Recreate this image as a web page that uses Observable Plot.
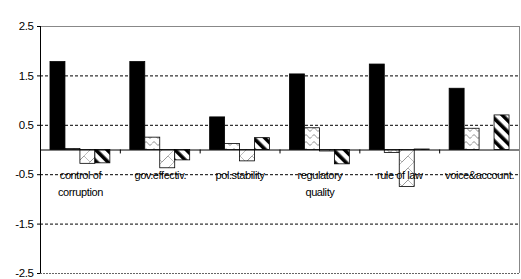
<!DOCTYPE html>
<html>
<head>
<meta charset="utf-8">
<script src="https://cdn.jsdelivr.net/npm/d3@7"></script>
<script src="https://cdn.jsdelivr.net/npm/@observablehq/plot@0.6"></script>
<style>
  html, body { margin: 0; padding: 0; background: #fff; }
  #chart { width: 521px; height: 279px; }
  svg { font-family: Arial, "Liberation Sans", sans-serif; }
</style>
</head>
<body>
<div id="chart"></div>
<script>
// Categories (x axis labels)
const categories = ["control of\ncorruption", "gov.effectiv.", "pol.stability", "regulatory\nquality", "rule of law", "voice&account."];
// Four series
const series1 = [1.78, 1.78, 0.66, 1.53, 1.73, 1.24];
const series2 = [0.02, 0.25, 0.12, 0.44, -0.06, 0.43];
const series3 = [-0.28, -0.37, -0.23, -0.03, -0.75, 0.0];
const series4 = [-0.27, -0.21, 0.24, -0.29, 0.01, 0.70];
// Y tick labels
const yTicks = [2.5, 1.5, 0.5, -0.5, -1.5, -2.5];
const gridTicks = [1.5, 0.5, -0.5, -1.5];

const seriesList = [series1, series2, series3, series4];
const fills = ["#000", "url(#pat2)", "url(#pat3)", "url(#pat4)"];

// layout of a group inside each category band (fractions of the band)
const groupPad = 0.125, barW = 0.1875;

const rows = [];
categories.forEach((c, i) => {
  seriesList.forEach((arr, s) => {
    rows.push({i, s, v: arr[i]});
  });
});
const catRows = categories.map((c, i) => ({i, label: c}));
const boundaries = d3.range(1, categories.length);

const plot = Plot.plot({
  width: 521,
  height: 279,
  marginLeft: 40,
  marginRight: 2,
  marginTop: 26,
  marginBottom: 6,
  style: {fontFamily: "Arial, 'Liberation Sans', sans-serif", background: "#fff"},
  x: {domain: [0, categories.length], axis: null},
  y: {domain: [-2.5, 2.5], axis: null},
  marks: [
    // gridlines
    Plot.ruleY(gridTicks, {stroke: "#000", strokeDasharray: "3,2", strokeWidth: 1}),
    Plot.ruleY([-2.5], {stroke: "#666", strokeDasharray: "2,1", strokeWidth: 1}),
    Plot.ruleY([2.5], {stroke: "#888", strokeWidth: 1}),
    Plot.ruleX([categories.length], {stroke: "#888", strokeWidth: 1}),
    // bars
    ...seriesList.map((arr, s) => Plot.rectY(rows.filter(r => r.s === s), {
      x1: r => r.i + groupPad + r.s * barW,
      x2: r => r.i + groupPad + (r.s + 1) * barW,
      y1: 0,
      y2: "v",
      fill: fills[s],
      stroke: "#000",
      strokeWidth: 0.8
    })),
    // zero axis and boundary ticks
    Plot.ruleY([0], {stroke: "#000", strokeWidth: 1}),
    Plot.ruleX(boundaries, {x: d => d, y1: 0, y2: -0.08, stroke: "#000"}),
    // left axis
    Plot.ruleX([0], {stroke: "#000", strokeWidth: 1}),
    Plot.axisY({ticks: yTicks, label: null, tickFormat: d => String(d), tickSize: 3, tickPadding: 4, fontSize: 11.5, stroke: "#000", fill: "#000"}),
    // category labels
    Plot.text(catRows, {
      x: d => d.i + 0.5,
      y: -0.5,
      text: "label",
      lineAnchor: "top",
      lineHeight: 1.5,
      dy: -7,
      fontSize: 11,
      fill: "#000"
    })
  ]
});

// pattern definitions
const defs = `
<defs>
  <pattern id="pat2" patternUnits="userSpaceOnUse" width="8" height="7">
    <rect width="8" height="7" fill="#fff"/>
    <path d="M0,3.5 L2,1.5 L4,3.5 L6,5.5 L8,3.5" fill="none" stroke="#8a8a8a" stroke-width="1"/>
  </pattern>
  <pattern id="pat3" patternUnits="userSpaceOnUse" width="12" height="12">
    <rect width="12" height="12" fill="#fff"/>
    <path d="M0,12 L12,0 M-3,3 L3,-3 M9,15 L15,9" fill="none" stroke="#999" stroke-width="1"/>
    <path d="M0,0 L6,6 L0,12" fill="none" stroke="#bbb" stroke-width="1"/>
  </pattern>
  <pattern id="pat4" patternUnits="userSpaceOnUse" width="8" height="8" patternTransform="rotate(-45)">
    <rect width="8" height="8" fill="#fff"/>
    <rect x="0" y="0" width="3.6" height="8" fill="#000"/>
  </pattern>
</defs>`;
plot.insertAdjacentHTML("afterbegin", defs);
plot.querySelectorAll("[aria-label='y-axis tick label'] text, g[aria-label='text'] text").forEach(t => t.setAttribute("letter-spacing", "-0.4"));
document.getElementById("chart").appendChild(plot);
</script>
</body>
</html>
